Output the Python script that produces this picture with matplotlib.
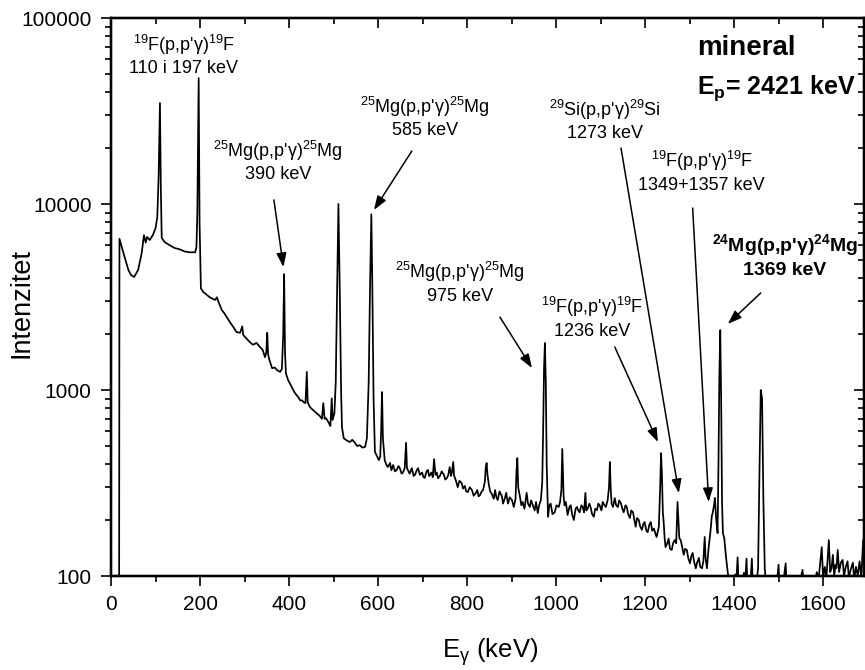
import matplotlib
matplotlib.use('Agg')
import numpy as np
import matplotlib.pyplot as plt
from matplotlib.ticker import MultipleLocator, LogLocator, NullFormatter, FuncFormatter

plt.rcParams['font.family'] = ['Liberation Sans', 'DejaVu Sans']
plt.rcParams['mathtext.fontset'] = 'custom'
plt.rcParams['mathtext.rm'] = 'Liberation Sans'
plt.rcParams['mathtext.it'] = 'Liberation Sans:italic'
plt.rcParams['mathtext.bf'] = 'Liberation Sans:bold'

# gamma spectrum: energy (keV) and counts per point
energy_kev = [
    18, 19, 28, 39, 45, 52, 61, 69, 74, 78,
    81, 87, 94, 100, 104, 107, 110, 112, 114, 121,
    132, 143, 155, 166, 177, 189, 192, 194, 197, 199,
    202, 207, 215, 222, 230, 234, 238, 241, 249, 255,
    260, 267, 275, 282, 290, 295, 297, 301, 312, 319,
    327, 335, 341, 346, 349, 351, 353, 356, 362, 368,
    373, 380, 384, 387, 389, 391, 393, 398, 406, 413,
    420, 425, 429, 433, 437, 440, 442, 447, 454, 462,
    468, 474, 477, 480, 483, 488, 493, 496, 498, 502,
    505, 508, 511, 514, 517, 519, 523, 530, 537, 542,
    548, 553, 559, 565, 571, 575, 579, 582, 585, 587,
    590, 593, 598, 602, 605, 607, 609, 611, 615, 618,
    622, 627, 630, 634, 638, 642, 646, 649, 653, 656,
    660, 663, 665, 667, 671, 676, 680, 683, 687, 690,
    694, 699, 702, 705, 709, 712, 715, 717, 720, 723,
    726, 729, 732, 735, 739, 743, 748, 751, 755, 758,
    761, 764, 766, 769, 771, 773, 776, 779, 783, 788,
    791, 795, 798, 802, 806, 811, 815, 820, 823, 826,
    829, 833, 836, 840, 842, 844, 846, 849, 852, 856,
    860, 863, 866, 869, 873, 878, 881, 885, 888, 892,
    896, 901, 905, 909, 911, 913, 915, 919, 922, 925,
    929, 934, 937, 941, 944, 948, 952, 955, 959, 962,
    966, 969, 971, 973, 975, 977, 979, 982, 985, 988,
    992, 997, 1001, 1006, 1009, 1012, 1014, 1017, 1019, 1022,
    1026, 1030, 1033, 1036, 1040, 1044, 1047, 1050, 1053, 1057,
    1060, 1063, 1066, 1068, 1071, 1075, 1078, 1081, 1085, 1088,
    1092, 1095, 1098, 1102, 1105, 1109, 1112, 1116, 1119, 1121,
    1123, 1125, 1128, 1132, 1135, 1139, 1142, 1146, 1149, 1152,
    1156, 1159, 1162, 1166, 1169, 1173, 1176, 1179, 1182, 1186,
    1189, 1193, 1196, 1199, 1203, 1206, 1210, 1213, 1216, 1220,
    1223, 1226, 1229, 1231, 1234, 1236, 1238, 1240, 1242, 1244,
    1246, 1250, 1253, 1256, 1260, 1263, 1267, 1270, 1273, 1275,
    1277, 1280, 1283, 1287, 1290, 1294, 1297, 1301, 1304, 1307,
    1310, 1314, 1317, 1321, 1324, 1328, 1331, 1334, 1336, 1339,
    1343, 1346, 1348, 1350, 1352, 1355, 1357, 1360, 1363, 1365,
    1367, 1369, 1371, 1373, 1375, 1378, 1382, 1386, 1390, 1394,
    1398, 1402, 1405, 1408, 1410, 1414, 1418, 1422, 1425, 1428,
    1430, 1434, 1437, 1440, 1442, 1446, 1450, 1454, 1457, 1460,
    1463, 1466, 1469, 1472, 1476, 1480, 1484, 1488, 1492, 1496,
    1500, 1502, 1506, 1510, 1516, 1518, 1524, 1530, 1536, 1542,
    1548, 1554, 1556, 1562, 1568, 1574, 1580, 1586, 1590, 1594,
    1597, 1600, 1604, 1607, 1610, 1613, 1616, 1619, 1622, 1625,
    1628, 1630, 1633, 1636, 1640, 1644, 1647, 1651, 1655, 1658,
    1662, 1667, 1670, 1674, 1678, 1682, 1686, 1690, 1692,
]
counts = [
    20, 6500, 5450, 4420, 4150, 4050, 4420, 5450, 6800, 6200,
    6650, 6400, 6800, 7400, 8500, 14000, 34900, 12000, 6560, 6230,
    6000, 5800, 5700, 5550, 5500, 5500, 5850, 9000, 47500, 8000,
    3520, 3370, 3250, 3150, 3080, 3050, 3150, 3000, 2690, 2580,
    2470, 2320, 2180, 2050, 2030, 2200, 1980, 1930, 1810, 1750,
    1790, 1700, 1640, 1500, 1600, 2030, 1550, 1450, 1310, 1320,
    1280, 1250, 1300, 2000, 4200, 1600, 1230, 1130, 1040, 965,
    920, 880, 880, 860, 850, 1250, 860, 810, 780, 750,
    730, 700, 850, 700, 705, 675, 640, 900, 690, 750,
    1100, 3200, 10000, 3500, 1000, 630, 550, 535, 525, 540,
    520, 500, 505, 490, 495, 550, 1100, 3500, 8800, 4000,
    900, 465, 440, 420, 440, 600, 975, 550, 420, 400,
    385, 405, 370, 395, 365, 372, 390, 380, 355, 360,
    380, 520, 380, 372, 355, 380, 345, 350, 370, 380,
    350, 360, 340, 337, 365, 372, 345, 350, 360, 340,
    425, 350, 360, 335, 345, 365, 350, 330, 337, 350,
    385, 345, 360, 410, 345, 337, 320, 300, 325, 316,
    295, 305, 285, 283, 300, 290, 270, 280, 290, 268,
    272, 285, 290, 320, 380, 405, 350, 310, 285, 275,
    260, 290, 265, 256, 285, 270, 245, 262, 280, 245,
    265, 256, 235, 260, 360, 430, 300, 266, 240, 250,
    230, 280, 245, 235, 255, 240, 225, 250, 218, 240,
    256, 320, 600, 1300, 1790, 1100, 400, 208, 240, 245,
    215, 220, 240, 235, 250, 290, 482, 270, 240, 250,
    213, 235, 240, 215, 200, 230, 235, 225, 220, 240,
    235, 220, 280, 225, 230, 245, 233, 215, 208, 230,
    226, 245, 240, 225, 250, 240, 235, 256, 300, 410,
    290, 245, 235, 262, 240, 235, 255, 245, 230, 220,
    240, 235, 215, 205, 225, 220, 200, 184, 205, 200,
    185, 177, 190, 195, 175, 172, 190, 195, 175, 180,
    170, 162, 175, 184, 300, 458, 350, 220, 193, 160,
    143, 150, 159, 140, 138, 150, 156, 150, 250, 200,
    160, 156, 145, 130, 140, 138, 125, 117, 128, 133,
    120, 110, 118, 125, 112, 110, 120, 162, 125, 110,
    143, 165, 184, 210, 218, 240, 263, 200, 170, 400,
    1200, 2100, 900, 250, 170, 160, 126, 104, 90, 98,
    90, 102, 92, 126, 92, 100, 90, 104, 92, 124,
    90, 98, 92, 124, 90, 96, 90, 110, 350, 1000,
    900, 250, 110, 90, 96, 90, 92, 90, 95, 90,
    115, 90, 94, 90, 117, 90, 95, 90, 96, 90,
    93, 108, 90, 95, 90, 94, 90, 105, 96, 120,
    143, 100, 112, 95, 120, 156, 105, 110, 130, 100,
    115, 110, 138, 105, 118, 122, 100, 112, 120, 98,
    108, 118, 96, 112, 100, 120, 98, 156, 110,
]
assert len(energy_kev) == len(counts)

x_ticks = [0, 200, 400, 600, 800, 1000, 1200, 1400, 1600]
y_ticks = [100, 1000, 10000, 100000]

W, H = 865, 670
fig = plt.figure(figsize=(W / 100, H / 100), dpi=100)
ax = fig.add_axes([111 / W, 1 - 576 / H, (864 - 111) / W, (576 - 18) / H])

ax.plot(energy_kev, counts, color='black', lw=1.25)
ax.set_yscale('log')
ax.set_xlim(0, 1692)
ax.set_ylim(100, 100000)

# bottom / left: ticks outside with labels
ax.set_xticks(x_ticks)
ax.xaxis.set_minor_locator(MultipleLocator(100))
ax.set_yticks(y_ticks)
ax.yaxis.set_minor_locator(LogLocator(base=10, subs=np.arange(2, 10), numticks=30))
ax.yaxis.set_major_formatter(FuncFormatter(lambda v, p: f"{v:.0f}"))
ax.yaxis.set_minor_formatter(NullFormatter())
ax.tick_params(which='major', direction='out', length=7.5, width=1.2, labelsize=15, pad=6.5)
ax.tick_params(which='minor', direction='out', length=4.5, width=1.2)

# top / right: mirrored ticks pointing inside
axt = ax.twiny()
axt.set_xlim(ax.get_xlim())
axt.set_xticks(x_ticks)
axt.xaxis.set_minor_locator(MultipleLocator(100))
axt.tick_params(which='major', direction='in', length=7.5, width=1.2, labeltop=False)
axt.tick_params(which='minor', direction='in', length=4.5, width=1.2)

axr = ax.twinx()
axr.set_yscale('log')
axr.set_ylim(ax.get_ylim())
axr.set_yticks(y_ticks)
axr.yaxis.set_minor_locator(LogLocator(base=10, subs=np.arange(2, 10), numticks=30))
axr.tick_params(which='major', direction='in', length=7.5, width=1.2, labelright=False)
axr.tick_params(which='minor', direction='in', length=4.5, width=1.2, labelright=False)

for a in (ax, axt, axr):
    for s in a.spines.values():
        s.set_linewidth(1.6)

fig.text(22 / W, 1 - 303 / H, 'Intenzitet', rotation=90, ha='center', va='center', fontsize=19.5)
fig.text(490 / W, 1 - 658 / H, r'E$_{\mathrm{γ}}$ (keV)', ha='center', va='baseline', fontsize=18.5)

# peak labels: text, text position, arrow start, arrow tip
arrow_kw = dict(arrowstyle='-|>,head_length=0.7,head_width=0.25', color='black',
                lw=1.1, mutation_scale=12, shrinkA=0, shrinkB=0)
labels = [
    (r"$^{19}$F(p,p'γ)$^{19}$F" + "\n110 i 197 keV", (164, 63200), None, None),
    (r"$^{25}$Mg(p,p'γ)$^{25}$Mg" + "\n390 keV", (375, 17020), (366, 10520), (387.5, 4580)),
    (r"$^{25}$Mg(p,p'γ)$^{25}$Mg" + "\n585 keV", (705, 29400), (676, 19270), (591, 9290)),
    (r"$^{29}$Si(p,p'γ)$^{29}$Si" + "\n1273 keV", (1110, 28300), (1146, 20000), (1276, 279)),
    (r"$^{19}$F(p,p'γ)$^{19}$F" + "\n1349+1357 keV", (1327, 14970), (1307, 9510), (1343, 250)),
    (r"$^{25}$Mg(p,p'γ)$^{25}$Mg" + "\n975 keV", (784, 3785), (874, 2465), (946, 1312)),
    (r"$^{19}$F(p,p'γ)$^{19}$F" + "\n1236 keV", (1080, 2455), (1132, 1702), (1229, 525)),
]
for text, pos, start, tip in labels:
    ax.text(pos[0], pos[1], text, ha='center', va='center', fontsize=13,
            multialignment='center', linespacing=1.25)
    if start is not None:
        ax.annotate('', xy=tip, xytext=start, arrowprops=arrow_kw)

ax.text(1514, 5290, r"$^{\mathbf{24}}$Mg(p,p'γ)$^{\mathbf{24}}$Mg" + "\n1369 keV",
        ha='center', va='center', fontsize=14, fontweight='bold',
        multialignment='center', linespacing=1.25, clip_on=False)
ax.annotate('', xy=(1386, 2265), xytext=(1460, 3325), arrowprops=arrow_kw)

ax.text(1316, 63200, 'mineral', ha='left', va='baseline', fontsize=20, fontweight='bold')
ax.text(1316, 39000, r'E$_{\mathbf{p}}$= 2421 keV', ha='left', va='baseline',
        fontsize=18, fontweight='bold')

fig.savefig('out.png', dpi=100)
